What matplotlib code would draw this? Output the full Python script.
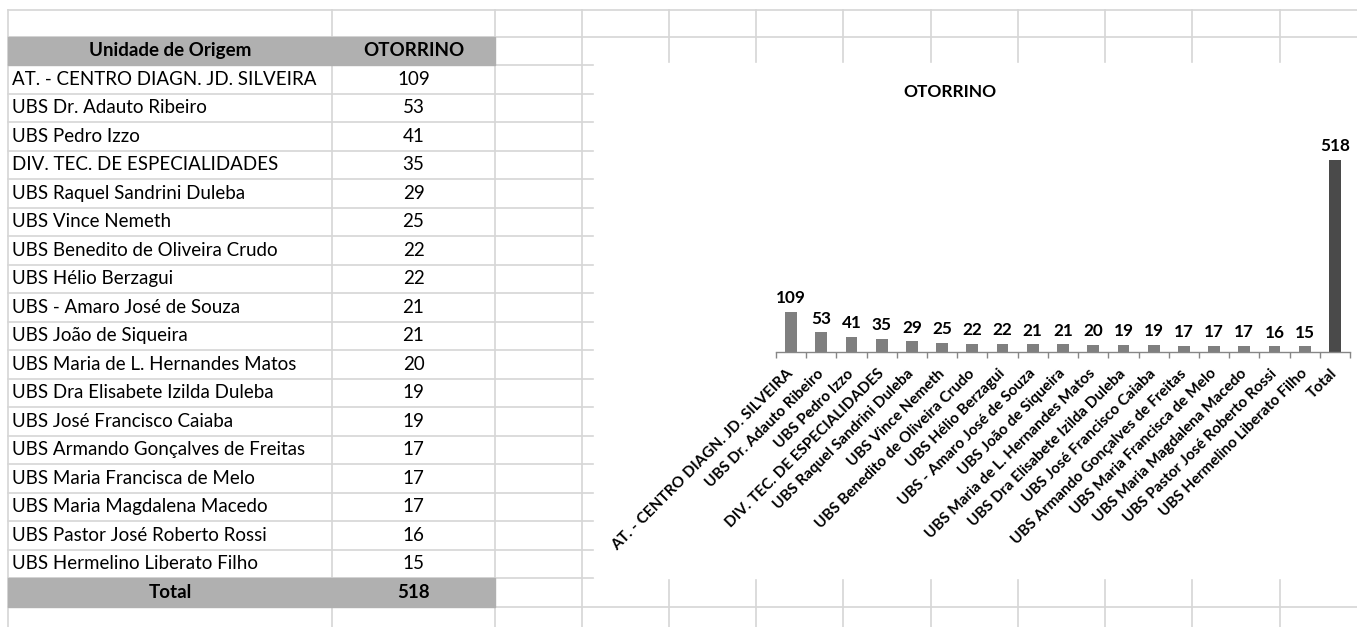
import numpy as np
import matplotlib
matplotlib.use('Agg')
import matplotlib.pyplot as plt
from matplotlib.patches import Rectangle

plt.rcParams['font.family'] = ['Lato', 'DejaVu Sans']

# Dados da tabela
unidades = [
    'AT. - CENTRO DIAGN. JD. SILVEIRA',
    'UBS Dr. Adauto Ribeiro',
    'UBS Pedro Izzo',
    'DIV. TEC. DE ESPECIALIDADES',
    'UBS Raquel Sandrini Duleba',
    'UBS Vince Nemeth',
    'UBS Benedito de Oliveira Crudo',
    'UBS Hélio Berzagui',
    'UBS - Amaro José de Souza',
    'UBS João de Siqueira',
    'UBS Maria de L. Hernandes Matos',
    'UBS Dra Elisabete Izilda Duleba',
    'UBS José Francisco Caiaba',
    'UBS Armando Gonçalves de Freitas',
    'UBS Maria Francisca de Melo',
    'UBS Maria Magdalena Macedo',
    'UBS Pastor José Roberto Rossi',
    'UBS Hermelino Liberato Filho',
]
otorrino = [109, 53, 41, 35, 29, 25, 22, 22, 21, 21, 20, 19, 19, 17, 17, 17, 16, 15]
total_label = 'Total'
total_valor = 518

W, H = 1357, 627
fig = plt.figure(figsize=(W / 100, H / 100), dpi=100)

# Fundo da planilha em coordenadas de pixel
bg = fig.add_axes([0, 0, 1, 1])
bg.set_xlim(0, W)
bg.set_ylim(H, 0)
bg.axis('off')

grid_c = '#d6d6d6'
col_x = [8, 332, 495, 582, 669, 756, 843, 931, 1018, 1105, 1192, 1280, 1367]
row_h = 28.5
row_y = [10, 36.5, 65] + [65 + row_h * (k + 1) for k in range(len(unidades))]
row_y += [row_y[-1] + 29, row_y[-1] + 58]

for y in row_y:
    bg.plot([8, W], [y, y], color=grid_c, lw=1.2, zorder=1)
for x in col_x:
    bg.plot([x, x], [10, H], color=grid_c, lw=1.2, zorder=1)

# Cabeçalho e total em cinza
gray = '#b0b0b0'
bg.add_patch(Rectangle((8, 36.5), 495 - 8, 65 - 36.5, color=gray, zorder=2))
y_tot = 65 + row_h * len(unidades)
bg.add_patch(Rectangle((8, y_tot), 495 - 8, 29, color=gray, zorder=2))

fs_tab = 13.5
bg.text(170, (36.5 + 65) / 2, 'Unidade de Origem', ha='center', va='center',
        fontsize=fs_tab, fontweight='bold', zorder=3)
bg.text(413.5, (36.5 + 65) / 2, 'OTORRINO', ha='center', va='center',
        fontsize=fs_tab, fontweight='bold', zorder=3)
for i, (u, v) in enumerate(zip(unidades, otorrino)):
    yc = 65 + row_h * i + row_h / 2
    bg.text(12, yc, u, ha='left', va='center', fontsize=fs_tab, zorder=3)
    bg.text(413.5, yc, str(v), ha='center', va='center', fontsize=fs_tab, zorder=3)
bg.text(170, y_tot + 14.5, total_label, ha='center', va='center',
        fontsize=fs_tab, fontweight='bold', zorder=3)
bg.text(413.5, y_tot + 14.5, str(total_valor), ha='center', va='center',
        fontsize=fs_tab, fontweight='bold', zorder=3)

# Área do gráfico (branca, cobre a grade)
bg.add_patch(Rectangle((594, 63), W - 594 + 5, y_tot - 63, color='white', zorder=4))

# Gráfico de barras
cats = unidades + [total_label]
vals = otorrino + [total_valor]
cores = ['#7f7f7f'] * len(otorrino) + ['#4a4a4a']

x0, x1 = 776, 1350
base_y = 352
px_per_unit = (352 - 160) / 518
ymax = 600
ax = fig.add_axes([x0 / W, (H - base_y) / H, (x1 - x0) / W, ymax * px_per_unit / H])
ax.set_zorder(5)
ax.patch.set_alpha(0)

pos = np.arange(len(cats))
ax.bar(pos, vals, width=0.39, color=cores)
ax.set_xlim(-0.5, len(cats) - 0.5)
ax.set_ylim(0, ymax)

for s in ['top', 'right', 'left']:
    ax.spines[s].set_visible(False)
ax.spines['bottom'].set_color('#868686')
ax.spines['bottom'].set_linewidth(1)
ax.set_yticks([])

ax.set_xticks(pos)
ax.set_xticklabels(cats, rotation=45, ha='right', va='center',
                   rotation_mode='anchor', fontsize=11, fontweight='bold')
ax.set_xticks(np.arange(-0.5, len(cats)), minor=True)
ax.tick_params(axis='x', which='major', length=0, pad=14)
ax.tick_params(axis='x', which='minor', length=4, color='#868686', width=1)

for p, v in zip(pos, vals):
    ax.annotate(str(v), (p, v), xytext=(0, 4), textcoords='offset points',
                ha='center', va='bottom', fontsize=12.3, fontweight='bold')

fig.text(950 / W, 1 - 92 / H, 'OTORRINO', ha='center', va='center',
         fontsize=12.5, fontweight='bold', zorder=6)

fig.savefig('out.png', dpi=100)
